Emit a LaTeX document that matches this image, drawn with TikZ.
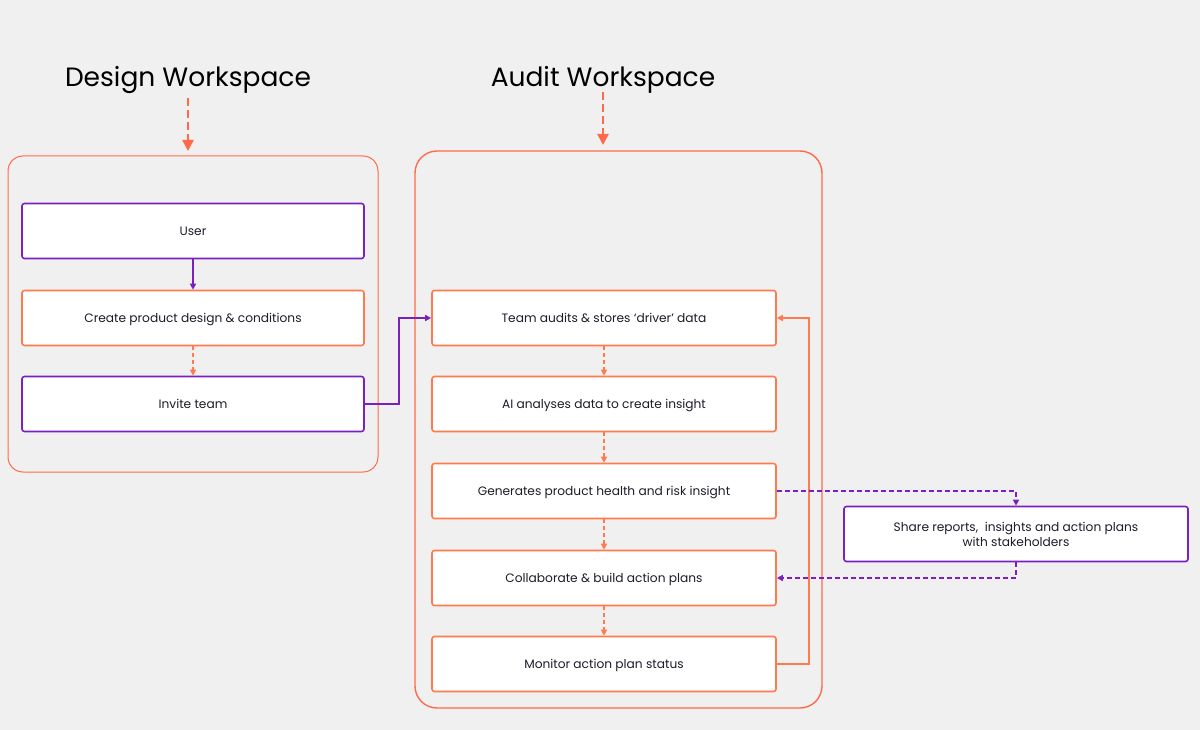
\documentclass[tikz,border=0pt]{standalone}
\usepackage{fontspec}
\setmainfont{Poppins}
\usetikzlibrary{arrows.meta,positioning}
\definecolor{coral}{HTML}{FF6B4A}
\definecolor{boxorange}{HTML}{FF7A4D}
\definecolor{violet}{HTML}{7B1FBF}
\definecolor{bg}{HTML}{F0F0F0}
\definecolor{ink}{HTML}{1C1C2A}
\begin{document}
\begin{tikzpicture}[x=1pt,y=-1pt,
    font=\fontsize{12.2}{15}\selectfont, text=ink,
    orangebox/.style={draw=boxorange,line width=1.6pt,fill=white,rounded corners=2.5pt,minimum width=344pt,minimum height=55pt,inner sep=0pt,text depth=0pt,align=center},
    purplebox/.style={orangebox,draw=violet},
    area/.style={draw=coral,line width=1pt},
    title/.style={font=\fontsize{26.5}{30}\selectfont,text=black},
    tip/.style={-{Triangle[length=6pt,width=6pt]}},
    flow/.style={tip,draw=boxorange,line width=1.3pt,dashed,dash pattern=on 4pt off 3pt},
    link/.style={tip,draw=violet,line width=1.4pt},
    share/.style={tip,draw=violet,line width=1.4pt,dash pattern=on 5pt off 3pt},
    drop/.style={-{Triangle[length=11pt,width=11pt]},draw=coral,line width=2.6pt,dash pattern=on 8pt off 4pt}]
    \fill[bg] (0,0) rectangle (1200,730);
    \useasboundingbox (0,0) rectangle (1200,730);

    % workspaces
    \draw[area,rounded corners=15pt] (8,156) rectangle (378,472);
    \draw[area,line width=1.4pt,rounded corners=22pt] (415,151) rectangle (822,708);
    \node[title] (design) at (188,80) {Design Workspace};
    \node[title] (audit) at (603,80) {Audit Workspace};
    \coordinate (designin) at (188,151);
    \coordinate (auditin) at (603,145);
    \draw[drop] (design.south |- 0,98) -- (designin);
    \draw[drop] (audit.south |- 0,92) -- (auditin);

    % design side
    \node[purplebox,minimum width=342pt] (user) at (193,231) {User};
    \node[orangebox,minimum width=342pt] (create) at (193,318) {Create product design \& conditions};
    \node[purplebox,minimum width=342pt] (invite) at (193,404) {Invite team};
    \draw[link] (user) -- (create);
    \draw[flow] (create) -- (invite);

    % audit side
    \node[orangebox] (team) at (604,318) {Team audits \& stores `driver' data};
    \node[orangebox] (ai) at (604,404) {AI analyses data to create insight};
    \node[orangebox] (health) at (604,491) {Generates product health and risk insight};
    \node[orangebox] (collab) at (604,578) {Collaborate \& build action plans};
    \node[orangebox] (monitor) at (604,664) {Monitor action plan status};
    \draw[flow] (team) -- (ai);
    \draw[flow] (ai) -- (health);
    \draw[flow] (health) -- (collab);
    \draw[flow] (collab) -- (monitor);

    \node[purplebox] (stake) at (1016,534) {Share reports,\ \ insights and action plans\\with stakeholders};

    % connectors
    \draw[link] (invite.east) -- (399,404) |- (team.west);
    \draw[tip,draw=boxorange,line width=1.6pt] (monitor.east) -- (809,664) |- (team.east);
    \draw[share] (health.east) -| (stake.north);
    \draw[share] (stake.south) |- (collab.east);
\end{tikzpicture}
\end{document}
